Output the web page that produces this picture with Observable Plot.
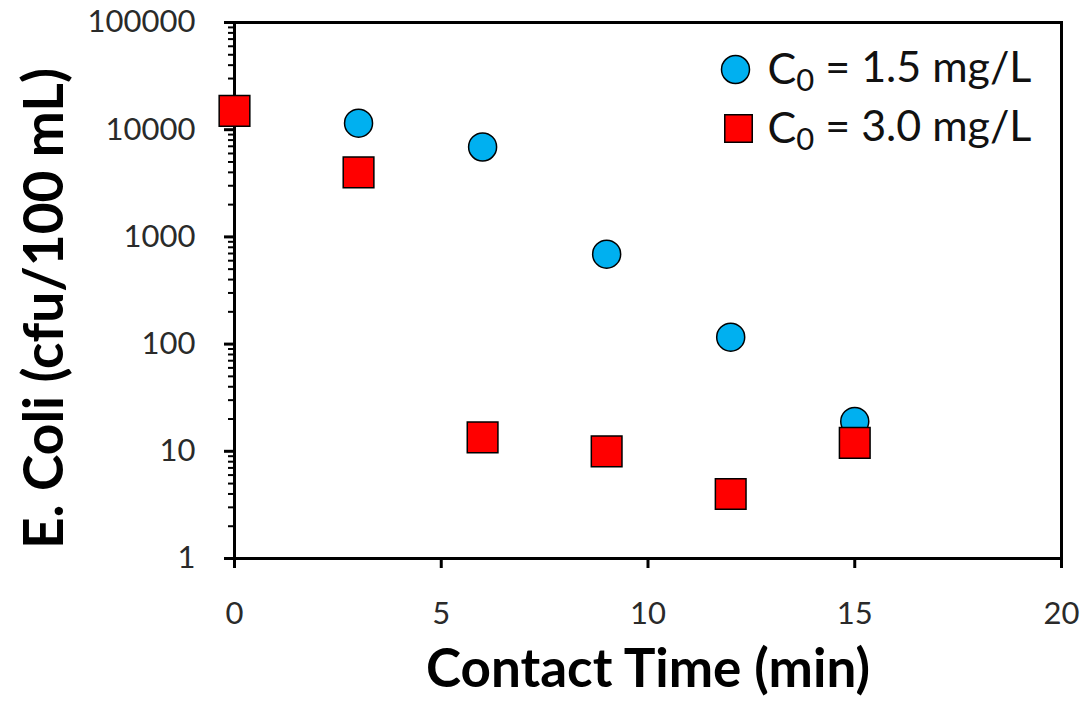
<!DOCTYPE html>
<html>
<head>
<meta charset="utf-8">
<script src="https://cdn.jsdelivr.net/npm/d3@7"></script>
<script src="https://cdn.jsdelivr.net/npm/@observablehq/plot@0.6"></script>
<style>
  html, body { margin: 0; padding: 0; background: #fff; }
  #chart { width: 1089px; height: 703px; }
</style>
</head>
<body>
<div id="chart"></div>
<script>
const time = [0, 3, 6, 9, 12, 15];
const ecoli15 = [15000, 11500, 6900, 690, 116, 19];
const ecoli30 = [15000, 4000, 13.5, 10, 4, 12];
const xTicks = [0, 5, 10, 15, 20];
const yTicks = [1, 10, 100, 1000, 10000, 100000];
const seriesLabels = ["C0 = 1.5 mg/L", "C0 = 3.0 mg/L"];
const xLabel = "Contact Time (min)";
const yLabel = "E. Coli (cfu/100 mL)";

const minorTicks = [];
for (const d of yTicks.slice(0, -1)) for (let k = 2; k <= 9; k++) minorTicks.push(d * k);

const d15 = time.map((t, i) => ({t, v: ecoli15[i]}));
const d30 = time.map((t, i) => ({t, v: ecoli30[i]}));

const blue = "#00b0f0", red = "#ff0000";

const chart = Plot.plot({
  width: 1089,
  height: 703,
  marginLeft: 234,
  marginRight: 28,
  marginTop: 22,
  marginBottom: 145,
  style: {fontFamily: "Lato, sans-serif", background: "#fff"},
  x: {domain: [0, 20]},
  y: {type: "log", domain: [1, 100000]},
  marks: [
    Plot.axisY(minorTicks, {tickSize: 6, strokeWidth: 2, text: null, label: null}),
    Plot.axisY(yTicks, {tickSize: 10, strokeWidth: 3, tickPadding: 29, fontSize: 31, fill: "#2a2a2a", tickFormat: d => String(d), label: null}),
    Plot.axisX(xTicks, {tickSize: 10, strokeWidth: 3, tickPadding: 33, fontSize: 31, fill: "#2a2a2a", label: null}),
    Plot.frame({stroke: "black", strokeWidth: 3}),
    Plot.dot(d15, {x: "t", y: "v", r: 14, symbol: "circle", fill: blue, stroke: "black", strokeWidth: 1.5}),
    Plot.dot(d30, {x: "t", y: "v", r: 17.3, symbol: "square", fill: red, stroke: "black", strokeWidth: 1.5}),
    // legend
    Plot.dot([seriesLabels[0]], {frameAnchor: "top-right", dx: -326, dy: 47, r: 14, symbol: "circle", fill: blue, stroke: "black", strokeWidth: 1.5}),
    Plot.dot([seriesLabels[1]], {frameAnchor: "top-right", dx: -323, dy: 106, r: 15.5, symbol: "square", fill: red, stroke: "black", strokeWidth: 1.5}),
    Plot.text([seriesLabels[0]], {frameAnchor: "top-right", dx: -294, dy: 48, text: d => d, textAnchor: "start", lineAnchor: "middle", fontSize: 43, fill: "#111", className: "leg"}),
    Plot.text([seriesLabels[1]], {frameAnchor: "top-right", dx: -294, dy: 107, text: d => d, textAnchor: "start", lineAnchor: "middle", fontSize: 43, fill: "#111", className: "leg"}),
    // axis titles
    Plot.text([xLabel], {frameAnchor: "bottom", dy: 112, text: d => d, textAnchor: "middle", lineAnchor: "middle", fontSize: 53, fontWeight: "bold", fill: "#000"}),
    Plot.text([yLabel], {frameAnchor: "left", dx: -189, dy: 18, text: d => d, rotate: -90, textAnchor: "middle", lineAnchor: "middle", fontSize: 55, fontWeight: "bold", fill: "#000"})
  ]
});
// Render the subscript "0" of C0 in the legend labels as a real subscript tspan
d3.select(chart).selectAll("g.leg text").each(function() {
  const s = this.textContent;
  const el = d3.select(this);
  el.text(null);
  el.append("tspan").text(s[0]);
  el.append("tspan").attr("font-size", "0.72em").attr("dy", "0.22em").text(s[1]);
  el.append("tspan").attr("dy", "-0.22em").text(s.slice(2));
});
document.getElementById("chart").appendChild(chart);
</script>
</body>
</html>
